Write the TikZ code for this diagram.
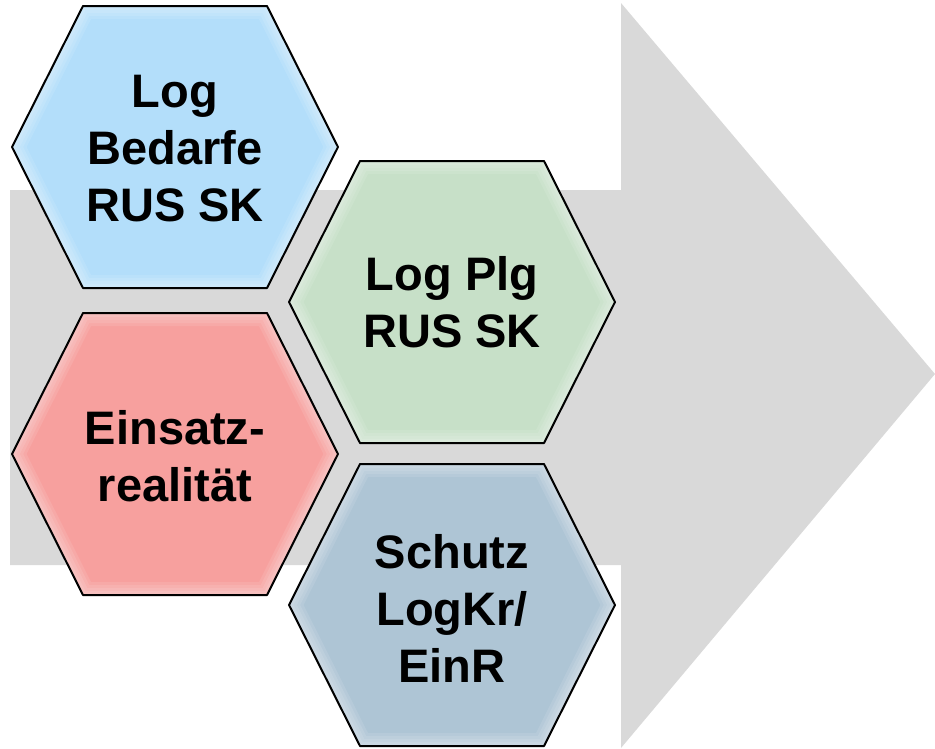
\documentclass[tikz,border=0pt]{standalone}
\usepackage{fontspec}
\setmainfont{Liberation Sans}
\definecolor{arrowgray}{RGB}{217,217,217}
\definecolor{hexblue}{RGB}{179,222,250}
\definecolor{hexgreen}{RGB}{199,224,200}
\definecolor{hexred}{RGB}{247,160,158}
\definecolor{hexsteel}{RGB}{174,197,213}
\tikzset{
  hexa/.pic={
    \path[pic actions] (-163,0)--(-92,-141)--(92,-141)--(163,0)--(92,141)--(-92,141)--cycle;
    \begin{scope}
      \clip (-163,0)--(-92,-141)--(92,-141)--(163,0)--(92,141)--(-92,141)--cycle;
      \foreach \w in {26,20,14,8} {
        \draw[white, opacity=0.1, line width=\w pt, line join=round]
          (-163,0)--(-92,-141)--(92,-141)--(163,0)--(92,141)--(-92,141)--cycle;
      }
    \end{scope}
    \draw[black, line width=2pt, line join=round]
      (-163,0)--(-92,-141)--(92,-141)--(163,0)--(92,141)--(-92,141)--cycle;
  },
  lbl/.style={align=center, inner sep=0pt, text=black,
    font=\bfseries\fontsize{47}{57}\selectfont}
}
\begin{document}
\begin{tikzpicture}[x=1pt,y=-1pt]
\useasboundingbox (0,0) rectangle (935,748);
% big arrow
\fill[arrowgray] (10,190) -- (621,190) -- (621,3) -- (935,374) -- (621,748) -- (621,565) -- (10,565) -- cycle;
% hexagons
\pic[fill=hexblue]  at (175,147) {hexa};
\pic[fill=hexgreen] at (452,302) {hexa};
\pic[fill=hexred]   at (175,454) {hexa};
\pic[fill=hexsteel] at (452,605) {hexa};
% labels
\node[lbl] (t1) at (175,149) {Log\\Bedarfe\\RUS SK};
\node[lbl] (t2) at (452,302) {Log Plg\\RUS SK};
\node[lbl] (t3) at (175,456) {Einsatz-\\realität};
\node[lbl] (t4) at (452,608) {Schutz\\LogKr/\\EinR};
\end{tikzpicture}
\end{document}
